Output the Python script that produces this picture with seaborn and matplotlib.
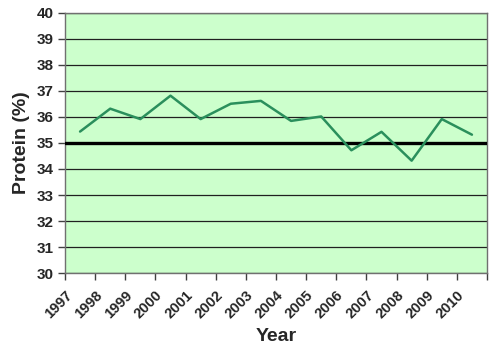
import matplotlib
matplotlib.use("Agg")
import matplotlib.pyplot as plt
import seaborn as sns
import pandas as pd
import numpy as np
from matplotlib.transforms import ScaledTranslation

years = ["1997", "1998", "1999", "2000", "2001", "2002", "2003",
         "2004", "2005", "2006", "2007", "2008", "2009", "2010"]
protein = [35.44, 36.32, 35.92, 36.82, 35.92, 36.51, 36.62,
           35.85, 36.02, 34.72, 35.43, 34.32, 35.92, 35.32]
y_ticks = [30, 31, 32, 33, 34, 35, 36, 37, 38, 39, 40]
reference_level = 35

sns.set_theme(style="white")
plt.rcParams["font.family"] = ["Liberation Sans", "DejaVu Sans"]

df = pd.DataFrame({"idx": np.arange(len(years)), "protein": protein})

fig = plt.figure(figsize=(5.0, 3.54), dpi=100)
ax = fig.add_axes([0.13, 0.2288, 0.844, 0.7345])
ax.set_facecolor("#CCFFCC")

for yv in y_ticks:
    if yv != reference_level:
        ax.axhline(yv, color="#202020", lw=0.9, zorder=1)
ax.axhline(reference_level, color="black", lw=2.4, zorder=3)

sns.lineplot(data=df, x="idx", y="protein", ax=ax, color="#2A8F5C", lw=1.8,
             zorder=4)

ax.set_xlim(-0.5, len(years) - 0.5)
ax.set_ylim(30, 40)
ax.set_yticks(y_ticks)
ax.set_yticklabels([str(v) for v in y_ticks], fontsize=11, fontweight="bold")

xt = np.arange(len(years) + 1) - 0.5
ax.set_xticks(xt)
ax.set_xticklabels(years + [""], fontsize=10.5, fontweight="bold", rotation=45,
                   ha="right", va="top", rotation_mode="anchor")
offset = ScaledTranslation(6 / 72, -4 / 72, fig.dpi_scale_trans)
for lab in ax.get_xticklabels():
    lab.set_transform(lab.get_transform() + offset)

ax.tick_params(axis="both", which="both", direction="out", length=5, width=1,
               color="#404040", left=True, bottom=True, pad=3)
ax.tick_params(axis="x", pad=6)

for side in ["left", "bottom", "right", "top"]:
    ax.spines[side].set_visible(True)
    ax.spines[side].set_color("#707070")
    ax.spines[side].set_linewidth(1.0)

ax.set_xlabel("Year", fontsize=14, fontweight="bold", labelpad=5)
ax.set_ylabel("Protein (%)", fontsize=14, fontweight="bold", labelpad=5)

fig.savefig("out.png", dpi=100)
